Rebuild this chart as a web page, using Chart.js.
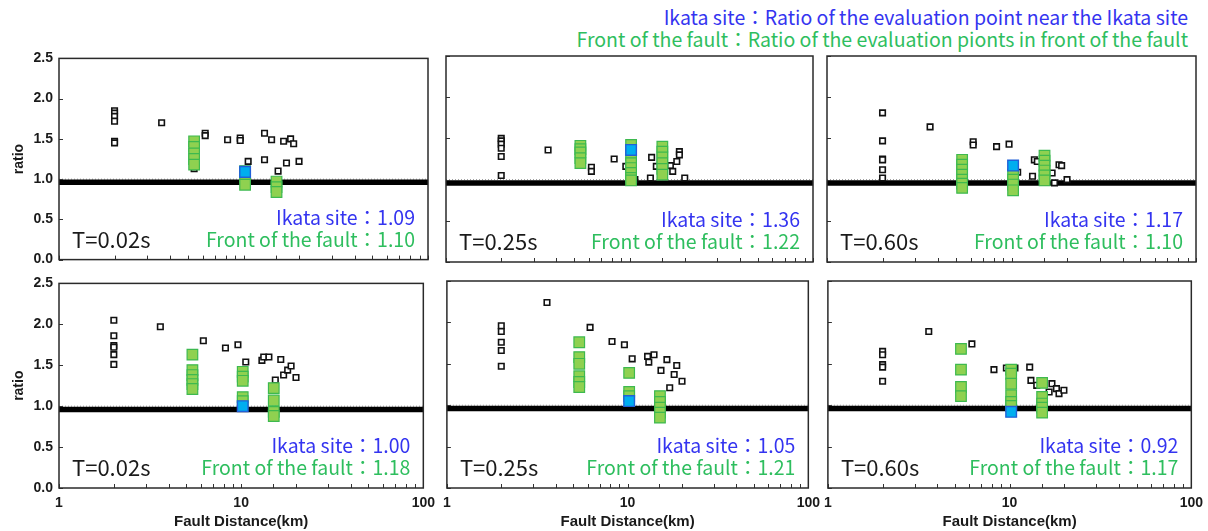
<!DOCTYPE html>
<html>
<head>
<meta charset="utf-8">
<script src="https://cdn.jsdelivr.net/npm/chart.js@4.4.1/dist/chart.umd.min.js"></script>
<style>
  html, body { margin: 0; padding: 0; background: #fff; overflow: hidden; }
  body { width: 1208px; height: 531px; position: relative; }
  canvas { position: absolute; }
  .note { position: absolute; right: 20px; font-family: "Noto Sans CJK JP", "Noto Sans", sans-serif;
          font-size: 19.5px; line-height: 20px; white-space: nowrap; }
</style>
</head>
<body>
<div class="note" style="top:7px; color:#3434F0">Ikata site：Ratio of the evaluation point near the Ikata site</div>
<div class="note" style="top:29px; color:#2EBE5E">Front of the fault：Ratio of the evaluation pionts in front of the fault</div>
<script>
// ---- data ------------------------------------------------------------
const periods = ['T=0.02s', 'T=0.25s', 'T=0.60s', 'T=0.02s', 'T=0.25s', 'T=0.60s'];
const ikataRatio = [1.09, 1.36, 1.17, 1.00, 1.05, 0.92];
const frontRatio = [1.10, 1.22, 1.10, 1.18, 1.21, 1.17];
const ikataDist = [10.2, 10.2, 10.2, 10.2, 10.2, 10.2];
const frontDist = [5.4, 10.2, 15.1];
const xTickValues = [1, 10, 100];
const baseLineX = [1, 100];
const baseLineY = [0.96, 0.96];
const unityLineY = [1.0, 1.0];

// all evaluation points: [fault distance (km), ratio]
const upper02Black = [[2,1.85],[2,1.82],[2,1.78],[2,1.72],[2,1.47],[2,1.45],[3.6,1.70],[5.4,1.13],
  [6.2,1.57],[6.2,1.54],[8.2,1.49],[9.6,1.51],[9.6,1.48],[10.6,1.22],[13.0,1.57],[13.0,1.24],
  [14.2,1.49],[15.4,1.10],[16.5,1.47],[17.1,1.20],[18.0,1.50],[18.7,1.44],[20.0,1.22]];
const upper25Black = [[2,1.50],[2,1.47],[2,1.43],[2,1.38],[2,1.28],[2,1.05],[3.6,1.36],
  [6.2,1.15],[6.2,1.10],[8.25,1.25],[9.55,1.16],[10.7,1.00],[13.0,1.02],[13.2,1.27],[14.0,1.16],
  [16.7,1.17],[17.2,1.10],[18.1,1.22],[18.7,1.34],[18.7,1.30],[20.0,1.02]];
const upper60Black = [[2,1.81],[2,1.47],[2,1.25],[2,1.24],[2,1.12],[2,1.02],[3.62,1.64],
  [6.2,1.46],[6.2,1.42],[8.3,1.40],[9.7,1.43],[10.8,1.09],[13.0,1.04],[13.3,1.24],[13.8,1.22],
  [16.6,1.08],[17.1,0.96],[18.1,1.18],[18.7,1.17],[20.0,1.00]];
const lower02Black = [[2,2.05],[2,1.86],[2,1.74],[2,1.72],[2,1.63],[2,1.51],[3.6,1.97],
  [6.2,1.80],[8.2,1.71],[9.6,1.75],[10.6,1.54],[13.0,1.56],[13.3,1.60],[14.2,1.60],[15.4,1.32],
  [16.5,1.57],[17.1,1.38],[18.0,1.44],[18.8,1.49],[20.0,1.35]];
const lower25Black = [[2,1.96],[2,1.89],[2,1.76],[2,1.66],[2,1.47],[3.58,2.24],
  [6.2,1.94],[8.2,1.77],[9.6,1.73],[10.6,1.56],[12.9,1.59],[13.1,1.52],[14.0,1.61],[15.3,1.42],
  [16.5,1.55],[17.1,1.21],[18.1,1.37],[18.7,1.48],[20.0,1.29]];
const lower60Black = [[2,1.65],[2,1.61],[2,1.49],[2,1.46],[2,1.29],[3.59,1.89],
  [6.2,1.74],[8.2,1.43],[9.6,1.45],[10.7,1.45],[12.9,1.46],[13.1,1.30],[14.1,1.24],
  [16.5,1.16],[17.1,1.26],[18.1,1.20],[18.7,1.14],[19.9,1.18]];

// points in front of the fault, one list per distance in frontDist
const upper02Front = [[1.47,1.40,1.32,1.25,1.18],[1.10,1.02,0.93],[0.97,0.90,0.84]];
const upper25Front = [[1.41,1.37,1.33,1.26,1.20],[1.42,1.30,1.20,1.14,1.08,1.02,0.99],[1.40,1.34,1.27,1.20,1.13,1.06]];
const upper60Front = [[1.24,1.18,1.12,1.06,1.00,0.95,0.90],[1.06,1.00,0.94,0.87],[1.29,1.23,1.17,1.11,1.05,0.99]];
const lower02Front = [[1.63,1.44,1.38,1.32,1.27,1.21],[1.42,1.36,1.31,1.11,1.06],[1.22,1.07,0.93,0.88]];
const lower25Front = [[1.76,1.58,1.50,1.35,1.28,1.22],[1.39,1.16,1.11],[1.11,1.04,0.97,0.91,0.85]];
const lower60Front = [[1.68,1.43,1.22,1.11],[1.43,1.38,1.26,1.12,1.04,0.99],[1.27,1.10,1.02,0.97,0.91]];

const blackSets = [upper02Black, upper25Black, upper60Black, lower02Black, lower25Black, lower60Black];
const frontSets = [upper02Front, upper25Front, upper60Front, lower02Front, lower25Front, lower60Front];

// ---- layout (plot area of each panel, page pixels) --------------------
const colLeft = [59, 446, 827];
const colRight = [428, 813, 1196];
const rowTop = [56, 281];
const rowBottom = [262, 488];

const BLUE_TEXT = '#3434F0';
const GREEN_TEXT = '#2EBE5E';

// frame, inward tick marks and the in-panel captions
const panelDecor = {
  id: 'panelDecor',
  afterDatasetsDraw(chart, args, o) {
    const { ctx, chartArea: a, scales: { x, y } } = chart;
    ctx.save();
    ctx.strokeStyle = '#333';
    ctx.lineWidth = 1;
    ctx.beginPath();
    x.ticks.forEach(t => {
      const p = Math.round(x.getPixelForValue(t.value)) + 0.5;
      ctx.moveTo(p, a.bottom); ctx.lineTo(p, a.bottom - 4);
    });
    y.ticks.forEach(t => {
      const p = Math.round(y.getPixelForValue(t.value)) + 0.5;
      ctx.moveTo(a.left, p); ctx.lineTo(a.left + 4, p);
    });
    ctx.stroke();
    ctx.lineWidth = 1.5;
    ctx.strokeStyle = '#2a2a2a';
    ctx.strokeRect(a.left, a.top, a.right - a.left, a.bottom - a.top);

    ctx.textBaseline = 'middle';
    ctx.font = '19.5px "Noto Sans CJK JP"';
    ctx.textAlign = 'right';
    ctx.fillStyle = BLUE_TEXT;
    ctx.fillText('Ikata site：' + o.ikata.toFixed(2), a.right - 13, a.bottom - 42);
    ctx.fillStyle = GREEN_TEXT;
    ctx.fillText('Front of the fault：' + o.front.toFixed(2), a.right - 13, a.bottom - 20);
    ctx.textAlign = 'left';
    ctx.fillStyle = '#1a1a1a';
    ctx.font = '22px "Noto Sans CJK JP"';
    ctx.fillText(o.period, a.left + 13, a.bottom - 20);
    ctx.restore();
  }
};

const axisFont = { family: '"Liberation Sans", Arial, sans-serif', size: 14, weight: 'bold' };

for (let i = 0; i < 6; i++) {
  const row = Math.floor(i / 3), col = i % 3;
  const axisW = col === 0 ? 59 : 10;
  const axisH = row === 1 ? 43 : 12;
  const padTop = 12, padRight = 14;
  const l = colLeft[col], r = colRight[col], t = rowTop[row], b = rowBottom[row];

  const cv = document.createElement('canvas');
  cv.width = axisW + (r - l) + padRight;
  cv.height = padTop + (b - t) + axisH;
  cv.style.left = (l - axisW) + 'px';
  cv.style.top = (t - padTop) + 'px';
  document.body.appendChild(cv);

  const datasets = [
    {
      type: 'line', order: 10,
      data: baseLineX.map((x, k) => ({ x, y: unityLineY[k] })),
      borderColor: '#9a9a9a', borderWidth: 1, borderDash: [1, 2], pointRadius: 0
    },
    {
      type: 'line', order: 9,
      data: baseLineX.map((x, k) => ({ x, y: baseLineY[k] })),
      borderColor: '#000', borderWidth: 5.5, pointRadius: 0
    },
    {
      type: 'scatter', order: 3,
      data: blackSets[i].map(([x, y]) => ({ x, y })),
      pointStyle: 'rect', pointRadius: 3.9, borderWidth: 1.6,
      borderColor: '#111', backgroundColor: '#fff'
    },
    {
      type: 'scatter', order: 2,
      data: frontSets[i].flatMap((ys, k) => ys.map(y => ({ x: frontDist[k], y }))),
      pointStyle: 'rect', pointRadius: 7.5, borderWidth: 1.2,
      borderColor: '#3DB94F', backgroundColor: '#8FD150'
    },
    {
      type: 'scatter', order: 1,
      data: [{ x: ikataDist[i], y: ikataRatio[i] }],
      pointStyle: 'rect', pointRadius: 7.5, borderWidth: 1.4,
      borderColor: '#2060D8', backgroundColor: '#00AEEF'
    }
  ];

  new Chart(cv, {
    type: 'scatter',
    data: { datasets },
    options: {
      responsive: false,
      animation: false,
      devicePixelRatio: 1,
      layout: { padding: { top: padTop, right: padRight, left: 0, bottom: 0 } },
      plugins: {
        legend: { display: false },
        tooltip: { enabled: false },
        panelDecor: { period: periods[i], ikata: ikataRatio[i], front: frontRatio[i] }
      },
      scales: {
        x: {
          type: 'logarithmic', min: 1, max: 100,
          grid: { display: false, drawTicks: false },
          border: { display: false },
          ticks: {
            display: row === 1, autoSkip: false, maxRotation: 0, padding: 7,
            color: '#1a1a1a', font: axisFont,
            callback: v => xTickValues.includes(v) ? String(v) : ''
          },
          title: {
            display: row === 1, text: 'Fault Distance(km)', color: '#1a1a1a',
            font: { ...axisFont, size: 15 }, padding: { top: 1, bottom: 0 }
          },
          afterFit: s => { s.height = axisH; }
        },
        y: {
          min: 0, max: 2.5,
          grid: { display: false, drawTicks: false },
          border: { display: false },
          ticks: {
            display: col === 0, stepSize: 0.5, padding: 6,
            color: '#1a1a1a', font: axisFont,
            callback: v => Number(v).toFixed(1)
          },
          title: {
            display: col === 0, text: 'ratio', color: '#1a1a1a',
            font: { ...axisFont, size: 14 }, padding: { top: 11, bottom: 0 }
          },
          afterFit: s => { s.width = axisW; }
        }
      }
    },
    plugins: [panelDecor]
  });
}
</script>
</body>
</html>
